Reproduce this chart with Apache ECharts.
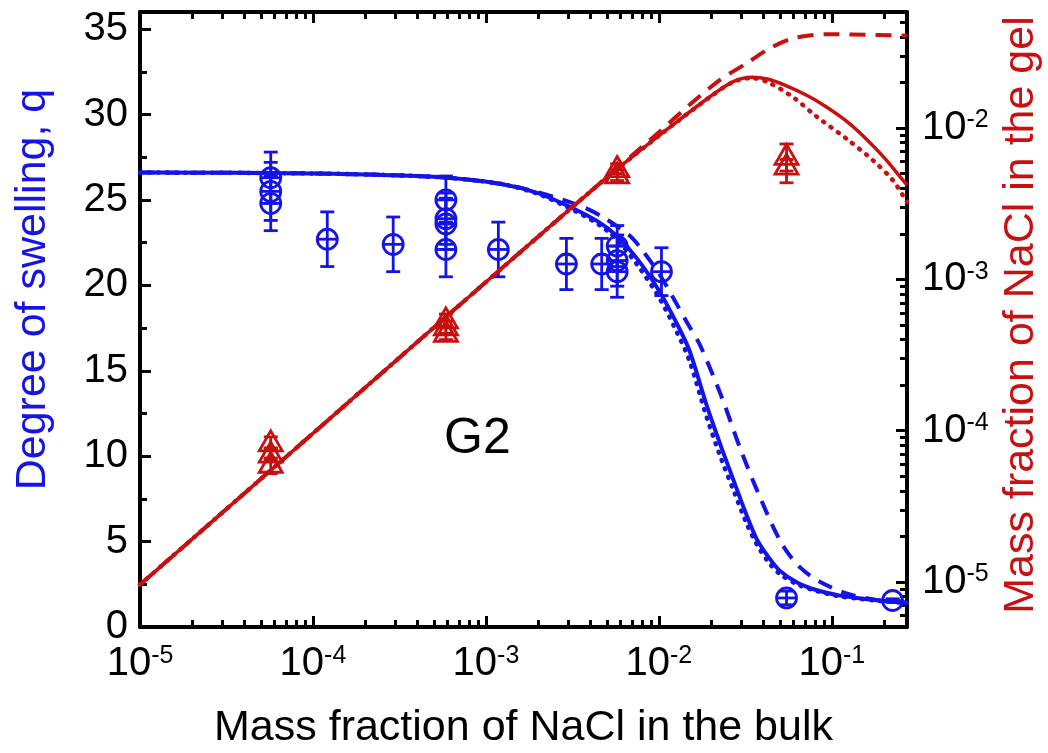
<!DOCTYPE html>
<html>
<head>
	<meta charset="UTF-8">
	<title>G2 swelling</title>
	<script src="https://cdn.jsdelivr.net/npm/echarts@6/dist/echarts.min.js"></script>
	<style>
		html, body { margin: 0; padding: 0; background: #fff; }
		#main { width: 1048px; height: 753px; }
	</style>
</head>
<body>
	<div id="main"></div>
	<script type="text/javascript">
		// axis ranges and tick positions
		var xMin = 1e-5, xMax = 0.272;
		var yLeftMin = 0, yLeftMax = 36;
		var yRightMin = 5.04e-6, yRightMax = 0.0585;
		var xMajor = [1e-5, 1e-4, 1e-3, 1e-2, 1e-1];
		var xMinor = [2e-5, 3e-5, 4e-5, 5e-5, 6e-5, 7e-5, 8e-5, 9e-5,
			2e-4, 3e-4, 4e-4, 5e-4, 6e-4, 7e-4, 8e-4, 9e-4,
			2e-3, 3e-3, 4e-3, 5e-3, 6e-3, 7e-3, 8e-3, 9e-3,
			2e-2, 3e-2, 4e-2, 5e-2, 6e-2, 7e-2, 8e-2, 9e-2, 2e-1];
		var qMajor = [0, 5, 10, 15, 20, 25, 30, 35];
		var qMinor = [2.5, 7.5, 12.5, 17.5, 22.5, 27.5, 32.5];
		var gelMajor = [1e-5, 1e-4, 1e-3, 1e-2];
		var gelMinor = [6e-6, 7e-6, 8e-6, 9e-6,
			2e-5, 3e-5, 4e-5, 5e-5, 6e-5, 7e-5, 8e-5, 9e-5,
			2e-4, 3e-4, 4e-4, 5e-4, 6e-4, 7e-4, 8e-4, 9e-4,
			2e-3, 3e-3, 4e-3, 5e-3, 6e-3, 7e-3, 8e-3, 9e-3,
			2e-2, 3e-2, 4e-2, 5e-2];

		// measured degree of swelling q (left axis)
		var qX   = [5.7e-5, 5.7e-5, 5.7e-5, 1.21e-4, 2.91e-4, 5.87e-4, 5.87e-4, 5.87e-4, 5.87e-4, 1.18e-3, 2.92e-3, 4.67e-3, 5.74e-3, 5.74e-3, 5.74e-3, 1.035e-2, 5.47e-2, 0.2245];
		var qVal = [26.3, 25.5, 24.8, 22.7, 22.4, 25.0, 23.9, 23.6, 22.1, 22.1, 21.25, 21.25, 22.3, 21.45, 20.8, 20.8, 1.7, 1.55];
		var qErr = [1.5, 1.7, 1.6, 1.6, 1.6, 1.4, 1.5, 1.5, 1.6, 1.6, 1.5, 1.5, 1.2, 1.5, 1.5, 1.4, 0.4, 0.1];

		// measured salt mass fraction in the gel (right axis)
		var cX   = [5.7e-5, 5.7e-5, 5.7e-5, 5.87e-4, 5.87e-4, 5.87e-4, 5.74e-3, 5.74e-3, 5.47e-2, 5.47e-2];
		var cVal = [8.3e-5, 7.0e-5, 6.0e-5, 5.4e-4, 4.85e-4, 4.4e-4, 5.4e-3, 4.9e-3, 6.5e-3, 5.6e-3];
		var cHi  = [9.1e-5, 7.7e-5, 6.6e-5, 5.9e-4, 5.3e-4, 4.8e-4, 5.8e-3, 5.3e-3, 7.85e-3, 6.2e-3];
		var cLo  = [7.6e-5, 6.4e-5, 5.2e-5, 4.9e-4, 4.4e-4, 4.0e-4, 5.0e-3, 4.5e-3, 5.2e-3, 4.35e-3];

		// model curves, q (left axis)
		var qSolid = [[1e-5, 26.6], [1e-4, 26.55], [5e-4, 26.35], [1.2e-3, 25.95], [2e-3, 25.4], [3.2e-3, 24.5],
			[4.5e-3, 23.7], [5.7e-3, 22.9], [7.5e-3, 21.55], [1.0e-2, 19.7], [1.25e-2, 17.9], [1.5e-2, 16.2],
			[1.9e-2, 12.9], [2.3e-2, 10.5], [2.7e-2, 8.6], [3.2e-2, 6.6], [3.7e-2, 5.1], [4.3e-2, 4.1],
			[5e-2, 3.3], [6.3e-2, 2.6], [8.2e-2, 2.15], [0.11, 1.85], [0.145, 1.68], [0.19, 1.55], [0.225, 1.48], [0.272, 1.43]];
		var qDotted = [[1e-5, 26.6], [1e-4, 26.55], [5e-4, 26.35], [1.2e-3, 25.95], [2e-3, 25.35], [3.2e-3, 24.4],
			[4.5e-3, 23.55], [5.7e-3, 22.7], [7.5e-3, 21.2], [1.0e-2, 19.3], [1.25e-2, 17.4], [1.5e-2, 15.6],
			[1.9e-2, 12.2], [2.3e-2, 9.8], [2.7e-2, 8.0], [3.2e-2, 6.1], [3.7e-2, 4.8], [4.3e-2, 3.8],
			[5e-2, 3.1], [6.3e-2, 2.5], [8.2e-2, 2.1], [0.11, 1.8], [0.145, 1.65], [0.19, 1.52], [0.225, 1.46], [0.272, 1.42]];
		var qDashed = [[1e-5, 26.6], [1e-4, 26.55], [5e-4, 26.35], [1.2e-3, 25.95], [2e-3, 25.45], [3.49e-3, 24.66],
			[4.74e-3, 24.0], [6.79e-3, 22.9], [8.09e-3, 22.0], [1.0e-2, 20.7], [1.205e-2, 19.3], [1.46e-2, 17.8],
			[1.73e-2, 16.5], [2.34e-2, 13.3], [2.94e-2, 10.5], [3.84e-2, 7.6], [5.12e-2, 4.9], [6.53e-2, 3.5],
			[8.53e-2, 2.65], [0.1216, 1.97], [0.181, 1.58], [0.272, 1.43]];

		// model curves, salt in gel (right axis)
		var cSolid = [[1e-5, 9.6e-6], [1e-4, 9.6e-5], [1e-3, 9.6e-4], [5e-3, 4.7e-3], [1.014e-2, 9.0e-3],
			[1.97e-2, 1.61e-2], [2.69e-2, 2.03e-2], [3.44e-2, 2.17e-2], [4.3e-2, 2.1e-2], [5.47e-2, 1.9e-2],
			[7.2e-2, 1.64e-2], [9.31e-2, 1.38e-2], [0.118, 1.14e-2], [0.145, 9.3e-3], [0.2, 6.4e-3], [0.257, 4.54e-3], [0.272, 4.2e-3]];
		var cDotted = [[1e-5, 9.6e-6], [1e-4, 9.6e-5], [1e-3, 9.6e-4], [5e-3, 4.7e-3], [1.014e-2, 9.0e-3],
			[1.97e-2, 1.6e-2], [2.69e-2, 2.02e-2], [3.44e-2, 2.14e-2], [4.3e-2, 2.0e-2], [5.97e-2, 1.6e-2],
			[8.17e-2, 1.19e-2], [0.1216, 8.5e-3], [0.1734, 6.1e-3], [0.226, 4.5e-3], [0.257, 3.6e-3], [0.272, 3.25e-3]];
		var cDashed = [[1e-5, 9.6e-6], [1e-4, 9.6e-5], [1e-3, 9.6e-4], [1e-2, 9.4e-3], [1.5e-2, 1.42e-2],
			[2.256e-2, 2.08e-2], [3.21e-2, 2.68e-2], [4.38e-2, 3.37e-2], [5.97e-2, 3.92e-2], [9.31e-2, 4.17e-2],
			[0.181, 4.12e-2], [0.272, 4.08e-2]];

		var BLUE = '#1414e6';
		var RED = '#c81010';
		var FONT = 'Liberation Sans, Arial, sans-serif';

		var qPoints = qX.map(function (x, i) { return [x, qVal[i], qErr[i]]; });
		var cPoints = cX.map(function (x, i) { return [x, cVal[i], cLo[i], cHi[i]]; });

		function powLabel(v) {
			var e = Math.round(Math.log(v) / Math.LN10);
			return '{b|10}{s|' + e + '}';
		}
		var powRich = {
			b: { fontSize: 40, fontFamily: FONT, color: '#000' },
			s: { fontSize: 25, fontFamily: FONT, color: '#000', verticalAlign: 'top' }
		};

		function tickAxis(base, ticks, len, showLine) {
			var a = {
				gridIndex: 0,
				axisLine: { show: showLine, onZero: false, lineStyle: { color: '#000', width: 4 } },
				axisTick: { show: true, inside: true, length: len, customValues: ticks, lineStyle: { color: '#000', width: 3 } },
				axisLabel: { show: false },
				splitLine: { show: false },
				minorTick: { show: false }
			};
			for (var k in base) a[k] = base[k];
			return a;
		}

		// dotted curves are drawn as 1px dashes with round caps
		function curve(data, yIndex, color, width, type, dots) {
			return {
				type: 'line', xAxisIndex: 0, yAxisIndex: yIndex, data: data,
				showSymbol: false, smooth: 0.3,
				lineStyle: { color: color, width: width, type: type, cap: dots ? 'round' : 'butt' }
			};
		}

		var xBottom = tickAxis({ type: 'log', logBase: 10, min: xMin, max: xMax, position: 'bottom' }, xMajor, 11, true);
		xBottom.name = 'Mass fraction of NaCl in the bulk';
		xBottom.nameLocation = 'middle';
		xBottom.nameGap = 80;
		xBottom.nameTextStyle = { fontSize: 43, color: '#000', fontFamily: FONT };
		xBottom.axisLabel = { show: true, customValues: xMajor, formatter: powLabel, margin: 17, rich: powRich };

		var yLeft = tickAxis({ type: 'value', min: yLeftMin, max: yLeftMax, position: 'left' }, qMajor, 11, true);
		yLeft.name = 'Degree of swelling, q';
		yLeft.nameLocation = 'middle';
		yLeft.nameGap = 85;
		yLeft.nameTextStyle = { fontSize: 43, color: BLUE, fontFamily: FONT, padding: [0, 0, 0, 60] };
		yLeft.axisLabel = { show: true, customValues: qMajor, margin: 12, fontSize: 40, color: '#000', fontFamily: FONT };

		var yRight = tickAxis({ type: 'log', logBase: 10, min: yRightMin, max: yRightMax, position: 'right' }, gelMajor, 11, true);
		yRight.name = 'Mass fraction of NaCl in the gel';
		yRight.nameLocation = 'middle';
		yRight.nameGap = 93;
		yRight.nameTextStyle = { fontSize: 43, color: RED, fontFamily: FONT, padding: [0, 0, 0, 9] };
		yRight.axisLabel = { show: true, customValues: gelMajor, formatter: powLabel, margin: 15, rich: powRich };

		var myChart = echarts.init(document.getElementById('main'), null, { renderer: 'canvas' });

		myChart.setOption({
			backgroundColor: '#fff',
			animation: false,
			grid: { left: 140, right: 141, top: 12, bottom: 126, containLabel: false, outerBoundsMode: 'none' },
			xAxis: [
				xBottom,
				tickAxis({ type: 'log', logBase: 10, min: xMin, max: xMax, position: 'bottom' }, xMinor, 7, false),
				tickAxis({ type: 'log', logBase: 10, min: xMin, max: xMax, position: 'top' }, xMajor, 11, true),
				tickAxis({ type: 'log', logBase: 10, min: xMin, max: xMax, position: 'top' }, xMinor, 7, false)
			],
			yAxis: [
				yLeft,
				tickAxis({ type: 'value', min: yLeftMin, max: yLeftMax, position: 'left' }, qMinor, 7, false),
				yRight,
				tickAxis({ type: 'log', logBase: 10, min: yRightMin, max: yRightMax, position: 'right' }, gelMinor, 7, false)
			],
			graphic: [{
				type: 'text', left: 444, top: 414,
				style: { text: 'G2', fontSize: 50, fontFamily: FONT, fill: '#000' }
			}],
			series: [
				curve(qDotted, 0, BLUE, 4.5, [1, 8], true),
				curve(qDashed, 0, BLUE, 4, [15, 10], false),
				curve(qSolid, 0, BLUE, 4, 'solid', false),
				curve(cDotted, 2, RED, 4.5, [1, 8], true),
				curve(cDashed, 2, RED, 4, [16, 10], false),
				curve(cSolid, 2, RED, 3.5, 'solid', false),
				{
					type: 'custom', xAxisIndex: 0, yAxisIndex: 0, data: qPoints,
					encode: { x: 0, y: 1 },
					renderItem: function (params, api) {
						var x = api.value(0), y = api.value(1), e = api.value(2);
						var p = api.coord([x, y]);
						var hi = api.coord([x, y + e]);
						var lo = api.coord([x, y - e]);
						var r = 10, c = 7;
						var st = { stroke: BLUE, lineWidth: 2.8, fill: null };
						return {
							type: 'group', children: [
								{ type: 'line', shape: { x1: p[0], y1: hi[1], x2: p[0], y2: lo[1] }, style: st },
								{ type: 'line', shape: { x1: p[0] - c, y1: hi[1], x2: p[0] + c, y2: hi[1] }, style: st },
								{ type: 'line', shape: { x1: p[0] - c, y1: lo[1], x2: p[0] + c, y2: lo[1] }, style: st },
								{ type: 'line', shape: { x1: p[0] - r, y1: p[1], x2: p[0] + r, y2: p[1] }, style: st },
								{ type: 'circle', shape: { cx: p[0], cy: p[1], r: r }, style: st }
							]
						};
					}
				},
				{
					type: 'custom', xAxisIndex: 0, yAxisIndex: 2, data: cPoints,
					encode: { x: 0, y: 1 },
					renderItem: function (params, api) {
						var x = api.value(0);
						var p = api.coord([x, api.value(1)]);
						var lo = api.coord([x, api.value(2)]);
						var hi = api.coord([x, api.value(3)]);
						var c = 7;
						var st = { stroke: RED, lineWidth: 2.8, fill: null };
						return {
							type: 'group', children: [
								{ type: 'line', shape: { x1: p[0], y1: hi[1], x2: p[0], y2: lo[1] }, style: st },
								{ type: 'line', shape: { x1: p[0] - c, y1: hi[1], x2: p[0] + c, y2: hi[1] }, style: st },
								{ type: 'line', shape: { x1: p[0] - c, y1: lo[1], x2: p[0] + c, y2: lo[1] }, style: st },
								{ type: 'polygon', shape: { points: [[p[0], p[1] - 12], [p[0] + 11.5, p[1] + 8], [p[0] - 11.5, p[1] + 8]] }, style: st }
							]
						};
					}
				}
			]
		});
	</script>
</body>
</html>
